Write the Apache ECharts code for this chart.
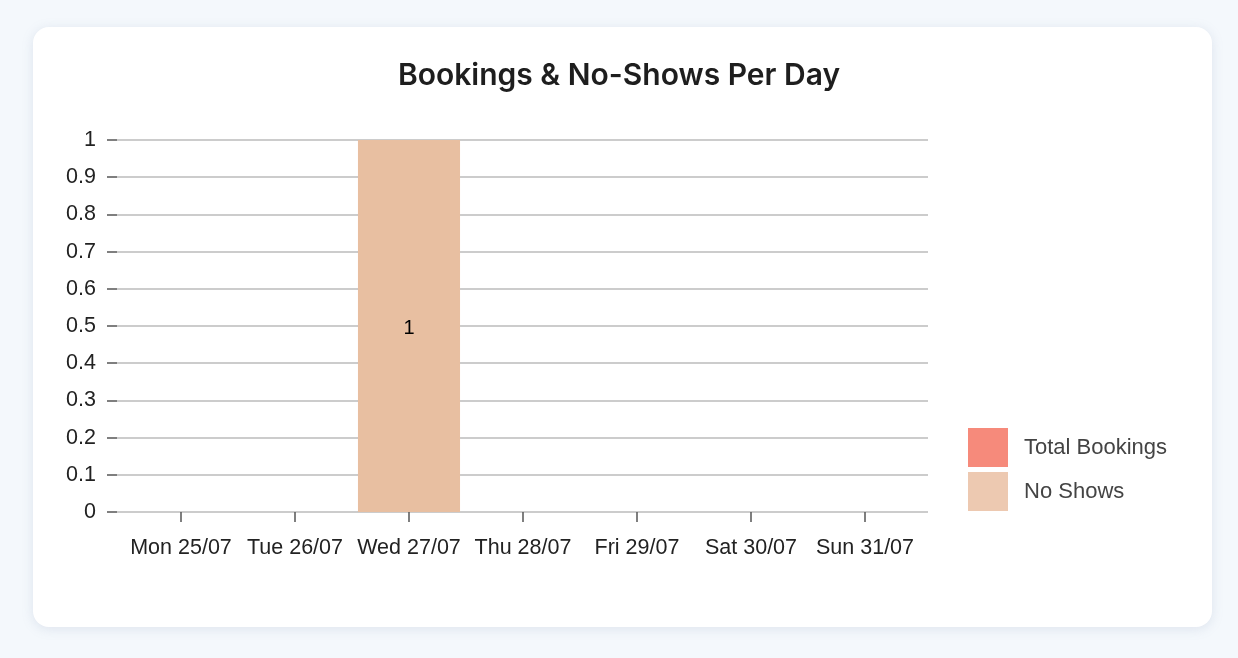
<!DOCTYPE html>
<html>
<head>
<meta charset="utf-8">
<script src="https://cdn.jsdelivr.net/npm/echarts@6/dist/echarts.min.js"></script>
<style>
  html, body { margin:0; padding:0; width:1238px; height:658px; background:#f4f8fc; overflow:hidden; }
  #card { position:absolute; left:33px; top:27px; width:1179px; height:600px; background:#fff; border-radius:16px; box-shadow:0 2px 12px rgba(120,140,170,0.18); }
  #chart { position:absolute; left:0; top:0; width:1238px; height:658px; }
</style>
</head>
<body>
<div id="card"></div>
<div id="chart"></div>
<script>
const categories = ['Mon 25/07', 'Tue 26/07', 'Wed 27/07', 'Thu 28/07', 'Fri 29/07', 'Sat 30/07', 'Sun 31/07'];
const totalBookings = [0, 0, 1, 0, 0, 0, 0];
const noShows = [0, 0, 1, 0, 0, 0, 0];
const yTicks = { min: 0, max: 1, interval: 0.1 };

const chart = echarts.init(document.getElementById('chart'), null, { renderer: 'canvas' });
const font = '"Liberation Sans", Arial, Helvetica, sans-serif';
chart.setOption({
  backgroundColor: 'transparent',
  animation: false,
  title: {
    text: 'Bookings & No-Shows Per Day',
    left: 'center',
    top: 56,
    textStyle: { fontFamily: 'Inter, "Noto Sans", sans-serif', fontWeight: 600, fontSize: 30, color: '#1e1e1e' }
  },
  legend: {
    orient: 'vertical',
    left: 968,
    top: 428,
    icon: 'rect',
    itemWidth: 40,
    itemHeight: 39,
    itemGap: 5,
    padding: 0,
    textStyle: { fontFamily: font, fontSize: 22, color: '#444', padding: [4, 0, 0, 11] },
    data: [
      { name: 'Total Bookings', itemStyle: { color: '#f68a7b' } },
      { name: 'No Shows', itemStyle: { color: '#edc9b1' } }
    ]
  },
  grid: [
    { left: 117, right: 310, top: 140, bottom: 146 },
    { left: 124, right: 316, top: 140, bottom: 146 }
  ],
  xAxis: [
    { type: 'value', gridIndex: 0, min: 0, max: 1, show: false },
    {
      type: 'category', gridIndex: 1, data: categories,
      axisLine: { show: false },
      axisTick: { show: true, alignWithLabel: true, length: 10, lineStyle: { color: '#555', width: 1.5 } },
      axisLabel: { fontFamily: font, fontSize: 21.5, color: '#222', margin: 25, interval: 0 },
      splitLine: { show: false }
    }
  ],
  yAxis: [
    {
      type: 'value', gridIndex: 0, min: yTicks.min, max: yTicks.max, interval: yTicks.interval,
      axisLine: { show: false },
      axisTick: { show: true, length: 10, lineStyle: { color: '#555', width: 1.5 } },
      axisLabel: { fontFamily: font, fontSize: 21.5, color: '#222', margin: 21 },
      splitLine: { show: true, lineStyle: { color: '#bbbbbb', width: 1.5 } }
    },
    { type: 'value', gridIndex: 1, min: yTicks.min, max: yTicks.max, show: false }
  ],
  series: [
    {
      name: 'Total Bookings', type: 'bar', xAxisIndex: 1, yAxisIndex: 1,
      data: totalBookings, barGap: '-100%', barCategoryGap: '10.5%',
      itemStyle: { color: '#f68a7b' }
    },
    {
      name: 'No Shows', type: 'bar', xAxisIndex: 1, yAxisIndex: 1,
      data: noShows, barGap: '-100%', barCategoryGap: '10.5%',
      itemStyle: { color: '#e8bfa1' },
      label: {
        show: true, position: 'inside', color: '#000', fontFamily: font, fontSize: 20, offset: [0, 2],
        formatter: p => (p.value ? String(p.value) : '')
      }
    }
  ]
});
</script>
</body>
</html>
